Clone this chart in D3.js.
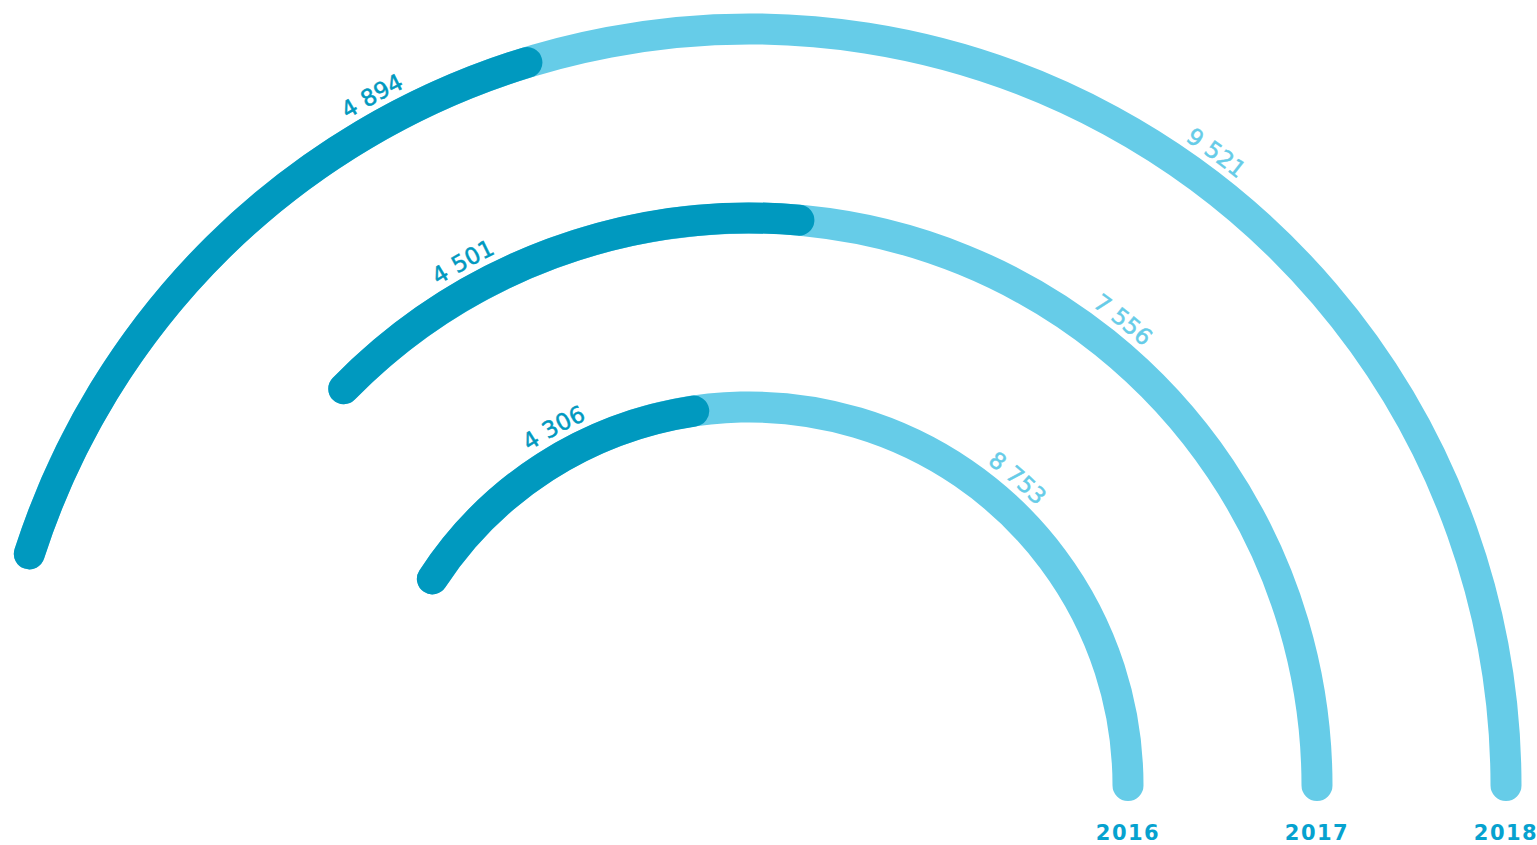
<!DOCTYPE html>
<html>
<head>
<meta charset="utf-8">
<script src="https://cdn.jsdelivr.net/npm/d3@7"></script>
<style>
  html, body { margin: 0; padding: 0; background: #ffffff; }
  svg { display: block; }
</style>
</head>
<body>
<svg id="chart" width="1537" height="845"></svg>
<script>
// Yearly totals split into two parts, drawn as concentric half-ring gauges
const years = ["2016", "2017", "2018"];
const firstPart = [4306, 4501, 4894];
const secondPart = [8753, 7556, 9521];
const gaugeMax = 16000;

const cx = 749.5, cy = 785.5;
const ringWidth = 31;
const darkColor = "#0099bf";
const lightColor = "#66cce8";
const yearColor = "#06a2cf";

const fmt = d3.formatLocale({ decimal: ",", thousands: "\u00a0", grouping: [3], currency: ["", " €"] }).format(",d");

const svg = d3.select("#chart");
const g = svg.append("g").attr("transform", `translate(${cx},${cy})`);

// angle measured clockwise from 12 o'clock
const angle = d3.scaleLinear().domain([0, gaugeMax]).range([0, Math.PI]);
const radius = d3.scalePoint().domain(years).range([378.5, 756.5]);
const deg = Math.PI / 180;
const darkLabelAngle = -28.7 * deg;
const lightLabelAngle = d3.scaleLinear().domain(radius.range()).range([41.0 * deg, 36.4 * deg]);

// open arc path from a0 to a1 (clockwise from top)
function arcPath(r, a0, a1) {
  const p = d3.path();
  p.arc(0, 0, r, a0 - Math.PI / 2, a1 - Math.PI / 2, a1 < a0);
  return p.toString();
}

const rows = years.map((y, i) => {
  const total = firstPart[i] + secondPart[i];
  const end = Math.PI / 2;
  const start = end - angle(total);
  const mid = start + angle(firstPart[i]);
  return { year: y, first: firstPart[i], second: secondPart[i], r: radius(y), start, mid, end, i };
});

const defs = svg.append("defs");

rows.forEach(d => {
  // full ring (second part shows through after the first part)
  g.append("path")
    .attr("d", arcPath(d.r, d.start, d.end))
    .attr("fill", "none")
    .attr("stroke", lightColor)
    .attr("stroke-width", ringWidth)
    .attr("stroke-linecap", "round");

  g.append("path")
    .attr("d", arcPath(d.r, d.start, d.mid))
    .attr("fill", "none")
    .attr("stroke", darkColor)
    .attr("stroke-width", ringWidth)
    .attr("stroke-linecap", "round");

  // baseline circle for the curved value labels
  const rt = d.r + 22;
  const a0 = -Math.PI * 0.75;
  defs.append("path")
    .attr("id", "lbl-" + d.year)
    .attr("transform", `translate(${cx},${cy})`)
    .attr("d", arcPath(rt, a0, Math.PI * 0.75));

  const labels = [
    { text: fmt(d.first), a: darkLabelAngle, color: darkColor },
    { text: fmt(d.second), a: lightLabelAngle(d.r), color: lightColor }
  ];
  labels.forEach(l => {
    svg.append("text")
      .attr("font-family", "DejaVu Sans, Verdana, sans-serif")
      .attr("font-size", 23)
      .attr("letter-spacing", 0)
      .attr("fill", l.color)
      .attr("stroke", l.color)
      .attr("stroke-width", 0.5)
      .append("textPath")
      .attr("href", "#lbl-" + d.year)
      .attr("startOffset", (l.a - a0) * rt)
      .attr("text-anchor", "middle")
      .text(l.text);
  });

  // year label under the ring's right end
  svg.append("text")
    .attr("x", cx + d.r)
    .attr("y", 840)
    .attr("text-anchor", "middle")
    .attr("font-family", "DejaVu Sans, Verdana, sans-serif")
    .attr("font-weight", "bold")
    .attr("font-size", 21)
    .attr("letter-spacing", 1.5)
    .attr("fill", yearColor)
    .text(d.year);
});
</script>
</body>
</html>
